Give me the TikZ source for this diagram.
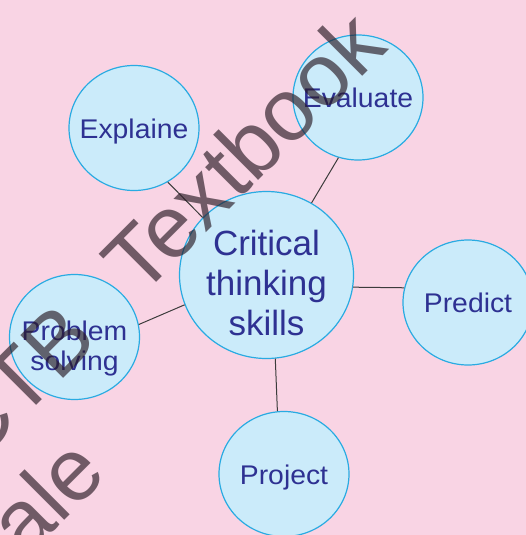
\documentclass[tikz,border=0pt]{standalone}
\usepackage{fontspec}
\setmainfont{Liberation Sans}
\newfontfamily\lblfont[FakeStretch=1.05]{Liberation Sans}
\usetikzlibrary{shapes.geometric}
\definecolor{bgpink}{HTML}{F9D4E4}
\definecolor{bubblefill}{HTML}{CBEBFA}
\definecolor{bubbleline}{HTML}{29ABE2}
\definecolor{labelblue}{HTML}{2E3192}
\definecolor{linkgray}{HTML}{3C3C3C}
\definecolor{wmgray}{RGB}{40,25,35}
% text centred on the node, its first baseline lifted by #1
\newcommand{\bubbletext}[2]{\makebox[0pt]{\raisebox{#1}[0pt][0pt]{\begin{tabular}[t]{@{}c@{}}#2\end{tabular}}}}
\tikzset{
  bubble/.style={ellipse, draw=bubbleline, fill=bubblefill, line width=1.2pt,
    inner sep=0pt, minimum width=130pt, minimum height=125pt, text=labelblue,
    font=\lblfont\fontsize{27}{30}\selectfont},
  bigbubble/.style={bubble, minimum width=174pt, minimum height=167pt,
    font=\fontsize{35}{40}\selectfont},
  link/.style={draw=linkgray, line width=1pt},
  wmtext/.style={rotate=45, inner sep=0pt, text=wmgray, opacity=0.65,
    font=\fontsize{88}{88}\selectfont}
}
\begin{document}
\begin{tikzpicture}[x=1pt,y=-1pt]
\fill[bgpink] (0,0) rectangle (526,535);
\useasboundingbox (0,0) rectangle (526,535);
\clip (0,0) rectangle (526,535);
\node[bubble] (explain) at (134,128) {\bubbletext{-10pt}{Explaine}};
\node[bubble] (evaluate) at (358,97.5) {\bubbletext{-10pt}{Evaluate}};
\node[bigbubble] (crit) at (266.5,275) {\bubbletext{20pt}{Critical\\thinking\\skills}};
\node[bubble] (predict) at (468,302.5) {\bubbletext{-10pt}{Predict}};
\node[bubble] (problem) at (74.5,337) {\bubbletext{-3pt}{Problem\\solving}};
\node[bubble] (project) at (284,474) {\bubbletext{-10pt}{Project}};
\draw[link] (explain.-58) -- (crit.138);
\draw[link] (evaluate.-108) -- (crit.58);
\draw[link] (crit.-8) -- (predict.167);
\draw[link] (problem.11) -- (crit.-160);
\draw[link] (crit.-84) -- (project.96);
\node[wmtext, anchor=base west] (wmtextbook) at (140,299) {Textbook};
\node[wmtext, anchor=base east] (wmnctb) at (100,342) {NCTB};
\node[wmtext, anchor=base east] (wmale) at (109,476) {ale};
\end{tikzpicture}
\end{document}
